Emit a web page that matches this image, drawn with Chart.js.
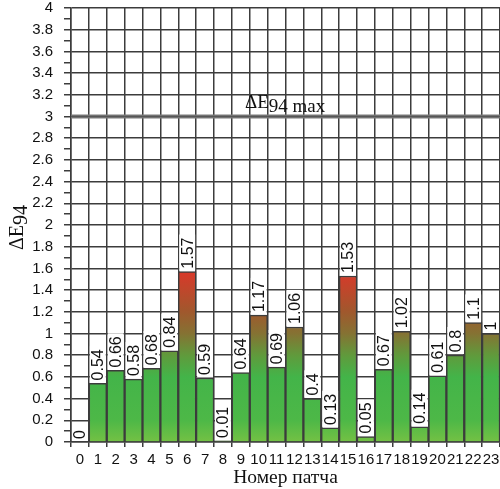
<!DOCTYPE html>
<html>
<head>
<meta charset="utf-8">
<script src="https://cdn.jsdelivr.net/npm/chart.js@4/dist/chart.umd.min.js"></script>
<style>
  html, body { margin: 0; padding: 0; background: #fff; }
  #wrap { width: 500px; height: 489px; position: relative; }
</style>
</head>
<body>
<div id="wrap"><canvas id="chart"></canvas></div>
<script>
const patches = ["0","1","2","3","4","5","6","7","8","9","10","11","12","13","14","15","16","17","18","19","20","21","22","23"]
const deltaE = [0, 0.54, 0.66, 0.58, 0.68, 0.84, 1.57, 0.59, 0.01, 0.64, 1.17, 0.69, 1.06, 0.4, 0.13, 1.53, 0.05, 0.67, 1.02, 0.14, 0.61, 0.8, 1.1, 1]
const valueLabels = ["0","0.54","0.66","0.58","0.68","0.84","1.57","0.59","0.01","0.64","1.17","0.69","1.06","0.4","0.13","1.53","0.05","0.67","1.02","0.14","0.61","0.8","1.1","1"]
const maxDeltaE = 3

// colour along the value axis: green low, brown around 1, red at the top
const colourStops = [
  [0, "#74c144"],
  [0.2, "#4db847"],
  [0.6, "#43b449"],
  [0.8, "#609a3c"],
  [1.0, "#857233"],
  [1.2, "#a0582d"],
  [1.55, "#d63a2a"],
]

const GRID = "#3c3c3c"
const SERIF = "'Liberation Serif', 'Times New Roman', serif"
const SANS = "'Liberation Sans', Arial, sans-serif"

function barGradient(context) {
  const chart = context.chart
  const { chartArea, scales } = chart
  if (!chartArea) return "#43b449"
  const top = colourStops[colourStops.length - 1][0]
  const y0 = scales.y.getPixelForValue(0)
  const y1 = scales.y.getPixelForValue(top)
  const g = chart.ctx.createLinearGradient(0, y0, 0, y1)
  colourStops.forEach(([v, c]) => g.addColorStop(v / top, c))
  return g
}

const overlay = {
  id: "overlay",
  afterDatasetsDraw(chart) {
    const ctx = chart.ctx
    const { chartArea, scales } = chart
    const meta = chart.getDatasetMeta(0)

    // threshold line
    const yMax = scales.y.getPixelForValue(maxDeltaE)
    ctx.save()
    ctx.strokeStyle = "#7d7d7d"
    ctx.lineWidth = 4
    ctx.beginPath()
    ctx.moveTo(chartArea.left, yMax)
    ctx.lineTo(chartArea.right, yMax)
    ctx.stroke()
    ctx.strokeStyle = "#555"
    ctx.lineWidth = 1.5
    ctx.beginPath()
    ctx.moveTo(chartArea.left, yMax)
    ctx.lineTo(chartArea.right, yMax)
    ctx.stroke()

    // threshold label
    ctx.fillStyle = "#111"
    ctx.textBaseline = "alphabetic"
    ctx.textAlign = "left"
    ctx.font = "19px " + SERIF
    const lx = 245
    const ly = yMax - 9
    ctx.fillText("ΔE", lx, ly)
    const w1 = ctx.measureText("ΔE").width
    ctx.fillText("94 max", lx + w1, ly + 4)

    // value labels, rotated, on white boxes
    ctx.font = "16px " + SANS
    meta.data.forEach((bar, i) => {
      const text = valueLabels[i]
      const tw = ctx.measureText(text).width
      const half = bar.width / 2
      const top = bar.y - 3 - tw - 3
      ctx.fillStyle = "#fff"
      ctx.fillRect(bar.x - half + 1, top, bar.width - 2, bar.y - top - 1)
      ctx.save()
      ctx.translate(bar.x, bar.y - 3)
      ctx.rotate(-Math.PI / 2)
      ctx.fillStyle = "#111"
      ctx.textAlign = "left"
      ctx.textBaseline = "middle"
      ctx.fillText(text, 0, 1)
      ctx.restore()
    })

    // axis titles
    ctx.fillStyle = "#111"
    ctx.font = "19.5px " + SERIF
    ctx.textAlign = "center"
    ctx.textBaseline = "alphabetic"
    ctx.fillText("Номер патча", (chartArea.left + chartArea.right) / 2, 483)

    ctx.save()
    ctx.translate(23, 250)
    ctx.rotate(-Math.PI / 2)
    ctx.textAlign = "left"
    ctx.font = "20px " + SERIF
    ctx.fillText("ΔE", 0, 0)
    const w2 = ctx.measureText("ΔE").width
    ctx.fillText("94", w2, 4)
    ctx.restore()

    ctx.restore()
  },
}

new Chart(document.getElementById("chart"), {
  type: "bar",
  data: {
    labels: patches,
    datasets: [
      {
        data: deltaE,
        backgroundColor: barGradient,
        borderColor: GRID,
        borderWidth: 1.5,
        barPercentage: 1,
        categoryPercentage: 1,
      },
    ],
  },
  options: {
    responsive: true,
    maintainAspectRatio: false,
    animation: false,
    layout: { padding: 0 },
    plugins: {
      legend: { display: false },
      tooltip: { enabled: false },
    },
    scales: {
      x: {
        offset: true,
        grid: {
          offset: true,
          color: GRID,
          lineWidth: 1.5,
          tickLength: 5,
          tickColor: GRID,
        },
        border: { color: GRID, width: 1.5 },
        ticks: {
          color: "#111",
          font: { family: SANS, size: 15 },
          padding: 4,
          autoSkip: false,
          maxRotation: 0,
        },
        afterFit(scale) {
          scale.height = 47
          scale.paddingLeft = 0
          scale.paddingRight = 0
        },
      },
      y: {
        min: 0,
        max: 4,
        grid: {
          color: (c) => (Math.round(c.tick.value * 10) % 2 === 0 ? GRID : "rgba(0,0,0,0)"),
          lineWidth: 1.5,
          tickLength: 7,
          tickColor: GRID,
        },
        border: { color: GRID, width: 1.5 },
        ticks: {
          stepSize: 0.1,
          autoSkip: false,
          color: "#111",
          padding: 11,
          font: { family: SANS, size: 15 },
          callback: (v) => {
            const t = Math.round(v * 10)
            return t % 2 === 0 ? String(t / 10) : ""
          },
        },
        afterFit(scale) {
          scale.width = 71
          scale.paddingTop = 8
          scale.paddingBottom = 0
        },
      },
    },
  },
  plugins: [overlay],
})
</script>
</body>
</html>
